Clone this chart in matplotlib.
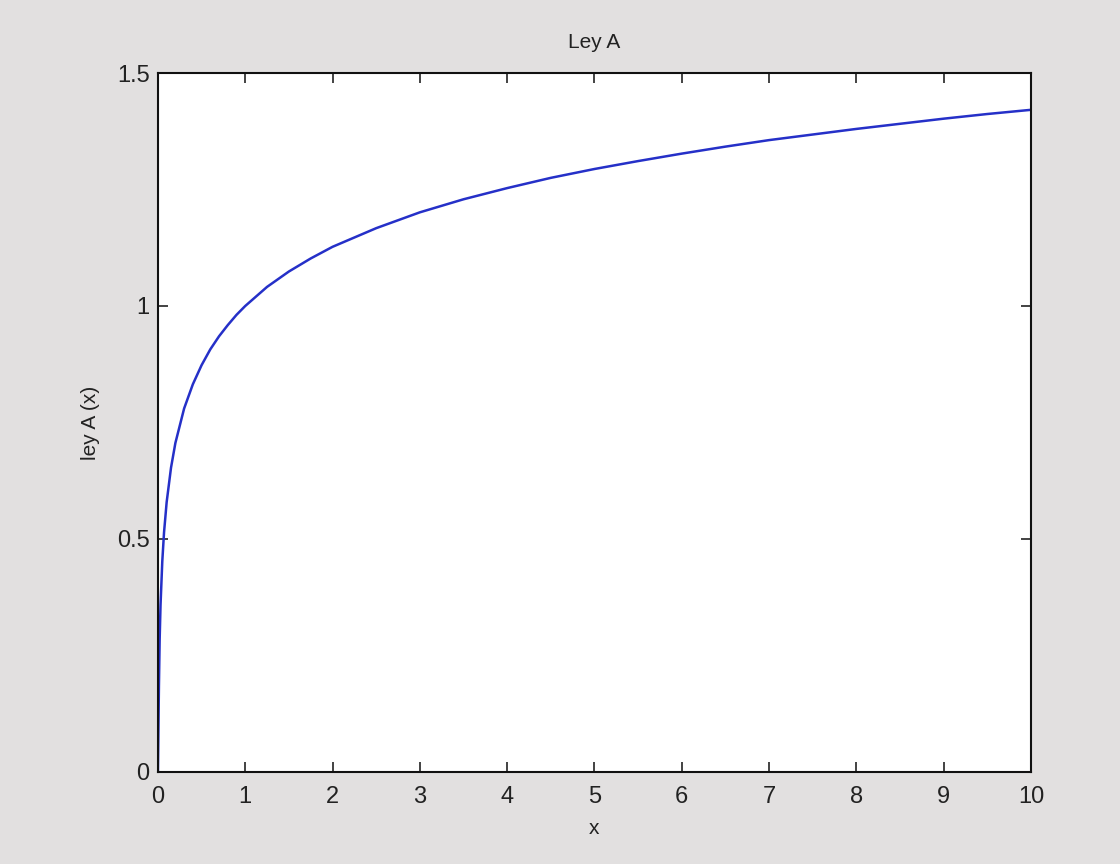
import matplotlib
matplotlib.use("Agg")
import matplotlib.pyplot as plt

plt.rcParams['font.family'] = ['Liberation Sans', 'DejaVu Sans']

title = "Ley A"
xlabel = "x"
ylabel = "ley A (x)"
x_ticks = [0, 1, 2, 3, 4, 5, 6, 7, 8, 9, 10]
y_ticks = [0, 0.5, 1, 1.5]
y_tick_labels = ["0", "0.5", "1", "1.5"]

# values
x_vals = [0.0, 0.0114, 0.02, 0.03, 0.05, 0.07, 0.1, 0.15, 0.2, 0.3, 0.4, 0.5,
          0.6, 0.7, 0.8, 0.9, 1.0, 1.25, 1.5, 1.75, 2.0, 2.5, 3.0, 3.5, 4.0,
          4.5, 5.0, 5.5, 6.0, 6.5, 7.0, 7.5, 8.0, 8.5, 9.0, 9.5, 10.0]
y_vals = [0.0, 0.183, 0.285, 0.359, 0.452, 0.514, 0.579, 0.653, 0.706, 0.780,
          0.832, 0.873, 0.907, 0.935, 0.959, 0.981, 1.000, 1.041, 1.074,
          1.102, 1.127, 1.167, 1.201, 1.229, 1.253, 1.275, 1.294, 1.311,
          1.327, 1.342, 1.356, 1.368, 1.380, 1.391, 1.402, 1.412, 1.421]

fig = plt.figure(figsize=(11.2, 8.64), dpi=100)
fig.patch.set_facecolor("#e2e0e0")
ax = fig.add_axes([0.141, 0.1065, 0.7795, 0.809])
ax.set_facecolor("white")
ax.plot(x_vals, y_vals, color="#2530c8", linewidth=1.8)
ax.set_xlim(0, 10)
ax.set_ylim(0, 1.5)
ax.set_xticks(x_ticks)
ax.set_yticks(y_ticks)
ax.set_yticklabels(y_tick_labels)
ax.tick_params(direction="in", top=True, right=True, length=7, width=1.2,
               labelsize=17, colors="#222222")
ax.tick_params(axis="x", pad=10)
ax.tick_params(axis="y", pad=6)
for s in ax.spines.values():
    s.set_linewidth(1.5)
    s.set_color("#111111")
ax.set_title(title, fontsize=15, pad=18, color="#222222")
ax.set_xlabel(xlabel, fontsize=15, color="#222222", labelpad=8)
ax.set_ylabel(ylabel, fontsize=15, color="#222222", labelpad=12)
fig.savefig("out.png", dpi=100, facecolor=fig.get_facecolor())
